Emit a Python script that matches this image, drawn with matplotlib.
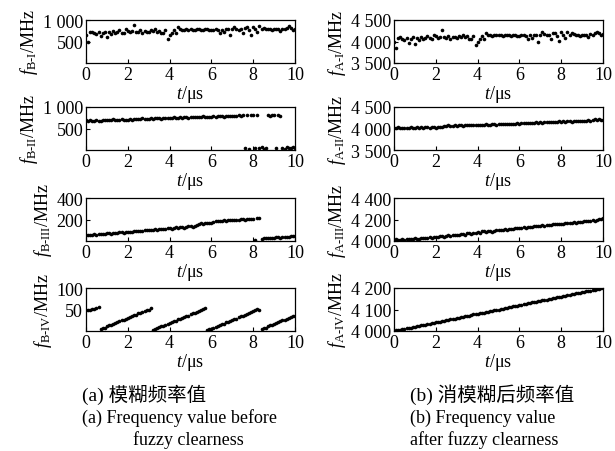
import numpy as np
import matplotlib.pyplot as plt
from matplotlib.ticker import FuncFormatter

plt.rcParams['font.family'] = ['Liberation Serif', 'Noto Sans CJK SC']
plt.rcParams['mathtext.fontset'] = 'custom'
plt.rcParams['mathtext.rm'] = 'Liberation Serif'
plt.rcParams['mathtext.it'] = 'Liberation Serif:italic'
plt.rcParams['xtick.direction'] = 'in'
plt.rcParams['ytick.direction'] = 'in'

# 模糊频率值 (B) / 消模糊后频率值 (A), sampled every 0.1 us from 0 to 10 us
f_b1 = [650, 500, 720, 730, 700, 680, 720, 620, 690, 730,
        600, 710, 680, 740, 700, 720, 760, 700, 690, 780,
        750, 720, 740, 880, 730, 720, 760, 700, 740, 730,
        720, 760, 740, 780, 730, 750, 700, 690, 760, 560,
        640, 700, 760, 700, 830, 790, 770, 760, 780, 770,
        780, 770, 760, 790, 780, 770, 760, 780, 790, 760,
        760, 770, 780, 760, 700, 770, 720, 790, 780, 640,
        790, 840, 800, 770, 780, 700, 820, 830, 760, 650,
        840, 790, 720, 860, 790, 820, 800, 780, 790, 760,
        790, 780, 790, 740, 800, 790, 820, 860, 820, 770, 800]

f_a1 = [4000, 3850, 4090, 4100, 4060, 4040, 4090, 3960, 4050, 4100,
        3950, 4080, 4040, 4110, 4060, 4090, 4130, 4070, 4050, 4150,
        4120, 4080, 4110, 4270, 4100, 4090, 4130, 4060, 4110, 4100,
        4090, 4130, 4110, 4160, 4100, 4120, 4060, 4050, 4130, 3920,
        4000, 4060, 4130, 4060, 4200, 4160, 4140, 4130, 4150, 4140,
        4150, 4140, 4130, 4160, 4150, 4140, 4130, 4150, 4160, 4130,
        4130, 4140, 4150, 4130, 4060, 4140, 4080, 4160, 4150, 4000,
        4160, 4210, 4170, 4140, 4150, 4060, 4190, 4200, 4130, 4010,
        4210, 4160, 4080, 4230, 4160, 4190, 4170, 4150, 4160, 4130,
        4160, 4150, 4160, 4100, 4170, 4160, 4190, 4230, 4190, 4140, 4170]

f_b2 = [690, 680, 700, 670, 680, 690, 670, 680, 690, 700,
        690, 700, 690, 710, 700, 690, 700, 710, 700, 690,
        700, 710, 700, 720, 730, 720, 730, 740, 730, 720,
        730, 740, 730, 740, 750, 740, 730, 750, 740, 750,
        750, 740, 760, 750, 740, 760, 750, 760, 770, 750,
        760, 770, 760, 770, 760, 770, 780, 770, 760, 770,
        770, 780, 770, 780, 790, 780, 770, 780, 790, 780,
        790, 800, 790, 810, 800, 810, 40, 810, 30, 820,
        810, 50, 820, 40, 60, 30, 50, 810, 800, 810,
        820, 40, 810, 800, 50, 30, 60, 50, 40, 60, 50]

f_a2 = [4020, 4010, 4025, 4015, 4020, 4010, 4020, 4015, 4025, 4020,
        4015, 4025, 4020, 4030, 4020, 4025, 4030, 4020, 4030, 4025,
        4020, 4030, 4025, 4040, 4060, 4055, 4070, 4060, 4065, 4070,
        4060, 4075, 4070, 4065, 4080, 4070, 4075, 4085, 4080, 4075,
        4085, 4080, 4090, 4085, 4095, 4090, 4085, 4100, 4095, 4090,
        4100, 4095, 4105, 4100, 4110, 4105, 4100, 4115, 4110, 4120,
        4115, 4125, 4120, 4130, 4125, 4135, 4130, 4125, 4140, 4135,
        4140, 4135, 4145, 4140, 4150, 4145, 4160, 4150, 4155, 4165,
        4160, 4170, 4155, 4165, 4175, 4160, 4170, 4165, 4180, 4170,
        4180, 4175, 4170, 4190, 4180, 4200, 4220, 4200, 4210, 4190, 4200]

f_b3 = [55, 58, 52, 60, 62, 58, 65, 63, 68, 66,
        70, 72, 69, 75, 78, 74, 80, 82, 79, 84,
        86, 83, 88, 92, 89, 94, 96, 93, 98, 100,
        102, 99, 104, 108, 105, 110, 112, 109, 115, 118,
        120, 116, 122, 126, 123, 128, 132, 125, 130, 135,
        138, 134, 140, 152, 160, 165, 162, 168, 164, 170,
        168, 175, 185, 188, 186, 190, 192, 188, 194, 196,
        193, 198, 200, 197, 202, 205, 200, 206, 208, 204,
        208, 12, 212, 210, 22, 25, 28, 26, 30, 32,
        30, 33, 35, 32, 36, 38, 40, 38, 42, 45, 44]

f_a3 = [4010, 4015, 4005, 4012, 4018, 4010, 4020, 4015, 4022, 4018,
        4025, 4022, 4020, 4028, 4030, 4025, 4032, 4035, 4030, 4038,
        4040, 4036, 4042, 4045, 4040, 4048, 4052, 4046, 4055, 4058,
        4060, 4056, 4062, 4066, 4060, 4070, 4072, 4068, 4075, 4078,
        4080, 4076, 4090, 4095, 4085, 4090, 4094, 4088, 4096, 4100,
        4102, 4098, 4105, 4110, 4106, 4112, 4115, 4110, 4118, 4120,
        4118, 4125, 4128, 4122, 4130, 4134, 4130, 4138, 4140, 4136,
        4142, 4145, 4140, 4148, 4152, 4150, 4155, 4158, 4154, 4160,
        4162, 4158, 4165, 4168, 4164, 4170, 4174, 4170, 4176, 4180,
        4178, 4184, 4186, 4182, 4190, 4194, 4190, 4198, 4202, 4206, 4210]

f_b4 = [48, 50, 49, 51, 52, 53, 55,
        5, 7, 8, 11, 13, 14, 17, 19, 20, 23, 25, 26, 29, 31, 32, 35, 37, 38,
        41, 43, 44, 47, 49, 50, 53,
        3, 5, 6, 9, 11, 12, 15, 17, 18, 21, 23, 24, 27, 29, 30, 33, 35, 36,
        39, 41, 42, 45, 47, 48, 51, 53,
        2, 4, 5, 8, 10, 11, 14, 16, 17, 20, 22, 23, 26, 28, 29, 32, 34, 35,
        38, 40, 41, 44, 46, 50, 52, 50,
        5, 7, 8, 11, 13, 14, 17, 19, 20, 23, 25, 26, 29, 31, 32, 35, 36]

f_a4 = [4000, 4003, 4004, 4006, 4009, 4010, 4012, 4015, 4016, 4018,
        4020, 4023, 4024, 4026, 4029, 4030, 4032, 4034, 4036, 4038,
        4040, 4043, 4044, 4046, 4048, 4050, 4053, 4054, 4056, 4058,
        4060, 4062, 4064, 4066, 4069, 4070, 4072, 4074, 4077, 4078,
        4080, 4082, 4085, 4086, 4088, 4090, 4092, 4095, 4096, 4098,
        4100, 4103, 4104, 4106, 4108, 4110, 4112, 4114, 4117, 4118,
        4120, 4122, 4124, 4127, 4128, 4130, 4133, 4134, 4136, 4138,
        4140, 4142, 4145, 4146, 4148, 4150, 4152, 4155, 4156, 4158,
        4160, 4163, 4164, 4166, 4168, 4170, 4172, 4175, 4176, 4178,
        4180, 4182, 4184, 4187, 4188, 4190, 4193, 4194, 4196, 4198, 4201]

left_series = [f_b1, f_b2, f_b3, f_b4]
right_series = [f_a1, f_a2, f_a3, f_a4]
roman = ['I', 'II', 'III', 'IV']
left_ylims = [(0, 1000), (0, 1000), (0, 400), (0, 100)]
left_yticks = [[500, 1000], [500, 1000], [200, 400], [50, 100]]
right_ylims = [(3500, 4500), (3500, 4500), (4000, 4400), (4000, 4200)]
right_yticks = [[3500, 4000, 4500], [3500, 4000, 4500],
                [4000, 4200, 4400], [4000, 4100, 4200]]


def space_thousands(v, pos):
    return f'{int(round(v)):,}'.replace(',', ' ')


W, H = 615, 452
fig = plt.figure(figsize=(W / 100, H / 100), dpi=100)
row_tops = [21, 108, 199, 289]
row_h = 43
col_x = [86, 394]
col_w = 209

for r in range(4):
    for c, (series, ylims, yticks, letter) in enumerate(
            [(left_series, left_ylims, left_yticks, 'B'),
             (right_series, right_ylims, right_yticks, 'A')]):
        ax = fig.add_axes([col_x[c] / W, 1 - (row_tops[r] + row_h) / H,
                           col_w / W, row_h / H])
        vals = series[r]
        t = np.linspace(0, 10, len(vals))
        ax.plot(t, vals, 'o', ms=2.6, color='k', mew=0)
        ax.set_xlim(0, 10)
        ax.set_xticks([0, 2, 4, 6, 8, 10])
        ax.set_ylim(*ylims[r])
        ax.set_yticks(yticks[r])
        ax.yaxis.set_major_formatter(FuncFormatter(space_thousands))
        ax.tick_params(labelsize=13, length=3, width=0.8, pad=2)
        for s in ax.spines.values():
            s.set_linewidth(0.9)
        ax.set_xlabel(r'$t$/μs', fontsize=13, labelpad=0)
        ax.set_ylabel(r'$f_{\mathrm{%s\text{-}%s}}$/MHz' % (letter, roman[r]),
                      fontsize=13, labelpad=2)

cap_zh, cap_en = 14, 13
fig.text(82 / W, 1 - 395 / H, '(a) 模糊频率值', fontsize=cap_zh,
         ha='left', va='center')
fig.text(82 / W, 1 - 418 / H, '(a) Frequency value before', fontsize=cap_en,
         ha='left', va='center')
fig.text(188 / W, 1 - 440 / H, 'fuzzy clearness', fontsize=cap_en,
         ha='center', va='center')
fig.text(410 / W, 1 - 395 / H, '(b) 消模糊后频率值', fontsize=cap_zh,
         ha='left', va='center')
fig.text(410 / W, 1 - 418 / H, '(b) Frequency value', fontsize=cap_en,
         ha='left', va='center')
fig.text(410 / W, 1 - 440 / H, 'after fuzzy clearness', fontsize=cap_en,
         ha='left', va='center')

fig.savefig('out.png', dpi=100)
